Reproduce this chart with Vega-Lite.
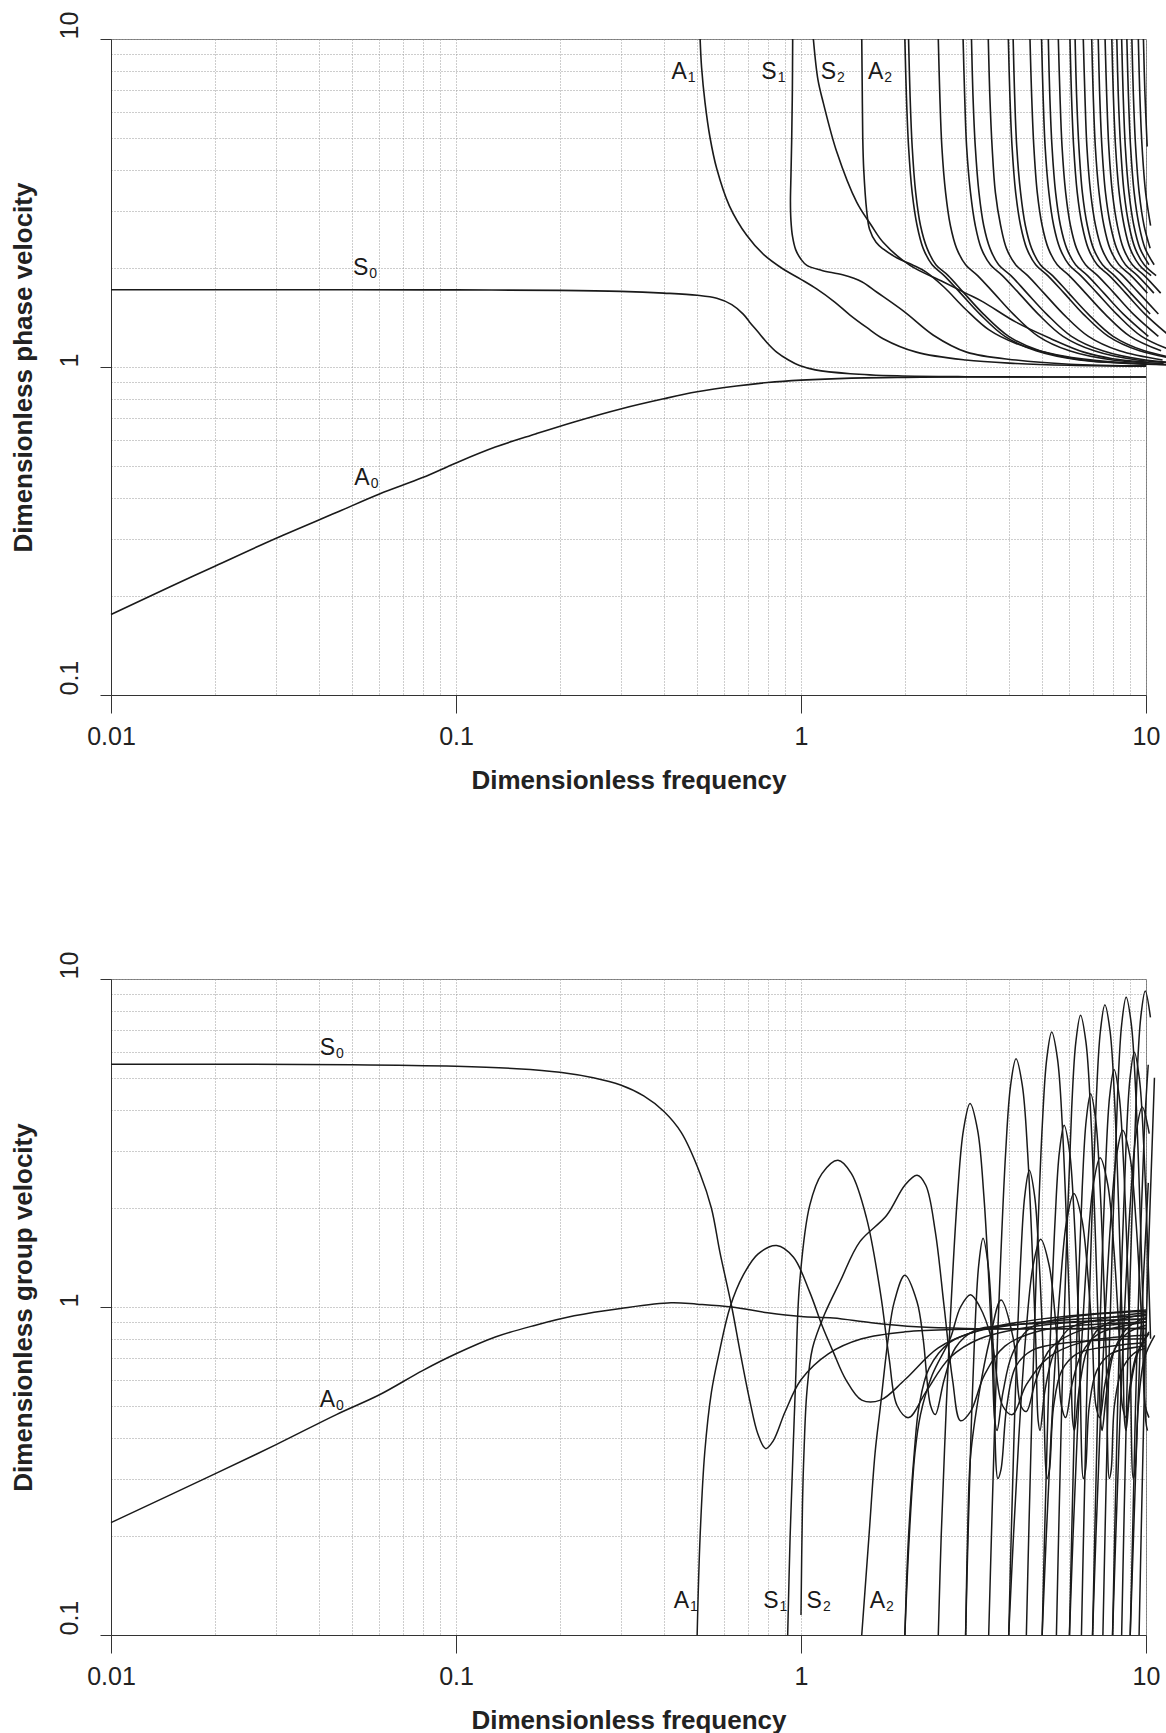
{
 "$schema": "https://vega.github.io/schema/vega-lite/v6.json",
 "background": "white",
 "padding": {"left": 9, "top": 10, "right": 10, "bottom": 5},
 "config": {
  "font": "Liberation Sans",
  "view": {"stroke": "#7a7a7a", "strokeWidth": 1},
  "line": {"color": "#1a1a1a", "strokeWidth": 1.6, "interpolate": "catmull-rom", "clip": true},
  "text": {"font": "Liberation Sans", "color": "#1a1a1a"}
 },
 "datasets": {
  "ph": [
   {"m":"S0","x":0.01,"y":1.72},{"m":"S0","x":0.05,"y":1.72},{"m":"S0","x":0.1,"y":1.718},{"m":"S0","x":0.2,"y":1.712},{"m":"S0","x":0.3,"y":1.70},{"m":"S0","x":0.4,"y":1.68},{"m":"S0","x":0.5,"y":1.655},{"m":"S0","x":0.57,"y":1.62},{"m":"S0","x":0.63,"y":1.55},{"m":"S0","x":0.68,"y":1.45},{"m":"S0","x":0.71,"y":1.37},{"m":"S0","x":0.75,"y":1.28},{"m":"S0","x":0.795,"y":1.19},{"m":"S0","x":0.85,"y":1.11},{"m":"S0","x":0.92,"y":1.05},{"m":"S0","x":0.99,"y":1.01},{"m":"S0","x":1.1,"y":0.98},{"m":"S0","x":1.39,"y":0.954},{"m":"S0","x":1.9,"y":0.94},{"m":"S0","x":3,"y":0.934},{"m":"S0","x":10,"y":0.932},
   {"m":"A0","x":0.01,"y":0.176},{"m":"A0","x":0.015,"y":0.215},{"m":"A0","x":0.02,"y":0.247},{"m":"A0","x":0.03,"y":0.30},{"m":"A0","x":0.045,"y":0.36},{"m":"A0","x":0.06,"y":0.41},{"m":"A0","x":0.08,"y":0.46},{"m":"A0","x":0.1,"y":0.51},{"m":"A0","x":0.13,"y":0.57},{"m":"A0","x":0.17,"y":0.625},{"m":"A0","x":0.22,"y":0.68},{"m":"A0","x":0.3,"y":0.745},{"m":"A0","x":0.4,"y":0.80},{"m":"A0","x":0.5,"y":0.84},{"m":"A0","x":0.65,"y":0.875},{"m":"A0","x":0.8,"y":0.897},{"m":"A0","x":1.0,"y":0.912},{"m":"A0","x":1.4,"y":0.925},{"m":"A0","x":2,"y":0.93},{"m":"A0","x":3,"y":0.932},{"m":"A0","x":10,"y":0.932},
   {"m":"A1","x":0.51,"y":10},{"m":"A1","x":0.515,"y":8.2},{"m":"A1","x":0.527,"y":6.4},{"m":"A1","x":0.545,"y":5.0},{"m":"A1","x":0.57,"y":4.02},{"m":"A1","x":0.62,"y":3.1},{"m":"A1","x":0.696,"y":2.52},{"m":"A1","x":0.78,"y":2.2},{"m":"A1","x":0.887,"y":1.99},{"m":"A1","x":1.0,"y":1.85},{"m":"A1","x":1.11,"y":1.73},{"m":"A1","x":1.25,"y":1.58},{"m":"A1","x":1.387,"y":1.44},{"m":"A1","x":1.55,"y":1.32},{"m":"A1","x":1.73,"y":1.22},{"m":"A1","x":2.16,"y":1.11},{"m":"A1","x":3.0,"y":1.05},{"m":"A1","x":4.2,"y":1.025},{"m":"A1","x":6,"y":1.012},{"m":"A1","x":10,"y":1.005},
   {"m":"S1","x":0.946,"y":10},{"m":"S1","x":0.944,"y":7},{"m":"S1","x":0.94,"y":5},{"m":"S1","x":0.935,"y":3.8},{"m":"S1","x":0.932,"y":3.2},{"m":"S1","x":0.935,"y":2.8},{"m":"S1","x":0.945,"y":2.5},{"m":"S1","x":0.965,"y":2.28},{"m":"S1","x":1.0,"y":2.13},{"m":"S1","x":1.04,"y":2.04},{"m":"S1","x":1.15,"y":1.97},{"m":"S1","x":1.32,"y":1.91},{"m":"S1","x":1.5,"y":1.82},{"m":"S1","x":1.66,"y":1.69},{"m":"S1","x":2.0,"y":1.47},{"m":"S1","x":2.42,"y":1.25},{"m":"S1","x":3.02,"y":1.11},{"m":"S1","x":4.2,"y":1.05},{"m":"S1","x":6,"y":1.02},{"m":"S1","x":10,"y":1.008},
   {"m":"S2","x":1.086,"y":10},{"m":"S2","x":1.12,"y":7.5},{"m":"S2","x":1.16,"y":6.4},{"m":"S2","x":1.27,"y":4.52},{"m":"S2","x":1.45,"y":3.18},{"m":"S2","x":1.6,"y":2.7},{"m":"S2","x":1.73,"y":2.4},{"m":"S2","x":2.07,"y":2.04},{"m":"S2","x":2.58,"y":1.82},{"m":"S2","x":3.0,"y":1.68},{"m":"S2","x":3.37,"y":1.58},{"m":"S2","x":4.2,"y":1.37},{"m":"S2","x":5.3,"y":1.22},{"m":"S2","x":6.6,"y":1.11},{"m":"S2","x":8,"y":1.06},{"m":"S2","x":10,"y":1.035},
   {"m":"A2","x":1.5,"y":10},{"m":"A2","x":1.505,"y":7},{"m":"A2","x":1.51,"y":5},{"m":"A2","x":1.52,"y":4.0},{"m":"A2","x":1.55,"y":3.0},{"m":"A2","x":1.58,"y":2.63},{"m":"A2","x":1.65,"y":2.4},{"m":"A2","x":1.73,"y":2.29},{"m":"A2","x":1.9,"y":2.15},{"m":"A2","x":2.1,"y":2.05},{"m":"A2","x":2.3,"y":1.95},{"m":"A2","x":2.6,"y":1.75},{"m":"A2","x":3.0,"y":1.5},{"m":"A2","x":3.5,"y":1.3},{"m":"A2","x":4.2,"y":1.18},{"m":"A2","x":5.5,"y":1.09},{"m":"A2","x":7,"y":1.05},{"m":"A2","x":10,"y":1.02},
   {"m":"p1","x":2,"y":10},{"m":"p1","x":2.02,"y":6.8},{"m":"p1","x":2.05,"y":4.7},{"m":"p1","x":2.1,"y":3.4},{"m":"p1","x":2.17,"y":2.7},{"m":"p1","x":2.26,"y":2.3},{"m":"p1","x":2.4,"y":2.05},{"m":"p1","x":2.6,"y":1.9},{"m":"p1","x":2.9,"y":1.68},{"m":"p1","x":3.3,"y":1.45},{"m":"p1","x":3.9,"y":1.24},{"m":"p1","x":4.8,"y":1.12},{"m":"p1","x":6.4,"y":1.05},{"m":"p1","x":9,"y":1.025},{"m":"p1","x":12,"y":1.015},
   {"m":"p2","x":2.05,"y":10},{"m":"p2","x":2.07,"y":6.8},{"m":"p2","x":2.1,"y":4.7},{"m":"p2","x":2.15,"y":3.4},{"m":"p2","x":2.22,"y":2.7},{"m":"p2","x":2.32,"y":2.3},{"m":"p2","x":2.46,"y":2.05},{"m":"p2","x":2.67,"y":1.9},{"m":"p2","x":2.97,"y":1.68},{"m":"p2","x":3.38,"y":1.45},{"m":"p2","x":4.0,"y":1.24},{"m":"p2","x":4.92,"y":1.12},{"m":"p2","x":6.56,"y":1.05},{"m":"p2","x":9.23,"y":1.025},{"m":"p2","x":12.3,"y":1.015},
   {"m":"p3","x":2.5,"y":10},{"m":"p3","x":2.525,"y":6.8},{"m":"p3","x":2.56,"y":4.7},{"m":"p3","x":2.625,"y":3.4},{"m":"p3","x":2.71,"y":2.7},{"m":"p3","x":2.825,"y":2.3},{"m":"p3","x":3.0,"y":2.05},{"m":"p3","x":3.25,"y":1.9},{"m":"p3","x":3.625,"y":1.68},{"m":"p3","x":4.125,"y":1.45},{"m":"p3","x":4.875,"y":1.24},{"m":"p3","x":6.0,"y":1.12},{"m":"p3","x":8.0,"y":1.05},{"m":"p3","x":11.25,"y":1.025},
   {"m":"p4","x":2.95,"y":10},{"m":"p4","x":2.98,"y":6.8},{"m":"p4","x":3.02,"y":4.7},{"m":"p4","x":3.1,"y":3.4},{"m":"p4","x":3.2,"y":2.7},{"m":"p4","x":3.33,"y":2.3},{"m":"p4","x":3.54,"y":2.05},{"m":"p4","x":3.835,"y":1.9},{"m":"p4","x":4.28,"y":1.68},{"m":"p4","x":4.87,"y":1.45},{"m":"p4","x":5.75,"y":1.24},{"m":"p4","x":7.08,"y":1.12},{"m":"p4","x":9.44,"y":1.05},{"m":"p4","x":13.3,"y":1.025},
   {"m":"p5","x":3.12,"y":10},{"m":"p5","x":3.15,"y":6.8},{"m":"p5","x":3.2,"y":4.7},{"m":"p5","x":3.28,"y":3.4},{"m":"p5","x":3.385,"y":2.7},{"m":"p5","x":3.53,"y":2.3},{"m":"p5","x":3.74,"y":2.05},{"m":"p5","x":4.06,"y":1.9},{"m":"p5","x":4.52,"y":1.68},{"m":"p5","x":5.15,"y":1.45},{"m":"p5","x":6.08,"y":1.24},{"m":"p5","x":7.49,"y":1.12},{"m":"p5","x":9.98,"y":1.05},{"m":"p5","x":14,"y":1.025},
   {"m":"p6","x":3.49,"y":10},{"m":"p6","x":3.525,"y":6.8},{"m":"p6","x":3.58,"y":4.7},{"m":"p6","x":3.66,"y":3.4},{"m":"p6","x":3.79,"y":2.7},{"m":"p6","x":3.94,"y":2.3},{"m":"p6","x":4.19,"y":2.05},{"m":"p6","x":4.54,"y":1.9},{"m":"p6","x":5.06,"y":1.68},{"m":"p6","x":5.76,"y":1.45},{"m":"p6","x":6.81,"y":1.24},{"m":"p6","x":8.38,"y":1.12},{"m":"p6","x":11.17,"y":1.05},
   {"m":"p7","x":3.99,"y":10},{"m":"p7","x":4.03,"y":6.8},{"m":"p7","x":4.09,"y":4.7},{"m":"p7","x":4.19,"y":3.4},{"m":"p7","x":4.33,"y":2.7},{"m":"p7","x":4.51,"y":2.3},{"m":"p7","x":4.79,"y":2.05},{"m":"p7","x":5.19,"y":1.9},{"m":"p7","x":5.79,"y":1.68},{"m":"p7","x":6.58,"y":1.45},{"m":"p7","x":7.78,"y":1.24},{"m":"p7","x":9.58,"y":1.12},{"m":"p7","x":12.77,"y":1.05},
   {"m":"p8","x":4.12,"y":10},{"m":"p8","x":4.16,"y":6.8},{"m":"p8","x":4.22,"y":4.7},{"m":"p8","x":4.33,"y":3.4},{"m":"p8","x":4.47,"y":2.7},{"m":"p8","x":4.66,"y":2.3},{"m":"p8","x":4.94,"y":2.05},{"m":"p8","x":5.36,"y":1.9},{"m":"p8","x":5.97,"y":1.68},{"m":"p8","x":6.8,"y":1.45},{"m":"p8","x":8.03,"y":1.24},{"m":"p8","x":9.89,"y":1.12},{"m":"p8","x":13.18,"y":1.05},
   {"m":"p9","x":4.61,"y":10},{"m":"p9","x":4.66,"y":6.8},{"m":"p9","x":4.73,"y":4.7},{"m":"p9","x":4.84,"y":3.4},{"m":"p9","x":5.0,"y":2.7},{"m":"p9","x":5.21,"y":2.3},{"m":"p9","x":5.53,"y":2.05},{"m":"p9","x":5.99,"y":1.9},{"m":"p9","x":6.68,"y":1.68},{"m":"p9","x":7.61,"y":1.45},{"m":"p9","x":8.99,"y":1.24},{"m":"p9","x":11.06,"y":1.12},
   {"m":"p10","x":4.98,"y":10},{"m":"p10","x":5.03,"y":6.8},{"m":"p10","x":5.1,"y":4.7},{"m":"p10","x":5.23,"y":3.4},{"m":"p10","x":5.4,"y":2.7},{"m":"p10","x":5.63,"y":2.3},{"m":"p10","x":5.98,"y":2.05},{"m":"p10","x":6.47,"y":1.9},{"m":"p10","x":7.22,"y":1.68},{"m":"p10","x":8.22,"y":1.45},{"m":"p10","x":9.71,"y":1.24},{"m":"p10","x":11.95,"y":1.12},
   {"m":"p11","x":5.21,"y":10},{"m":"p11","x":5.26,"y":6.8},{"m":"p11","x":5.34,"y":4.7},{"m":"p11","x":5.47,"y":3.4},{"m":"p11","x":5.65,"y":2.7},{"m":"p11","x":5.89,"y":2.3},{"m":"p11","x":6.25,"y":2.05},{"m":"p11","x":6.77,"y":1.9},{"m":"p11","x":7.55,"y":1.68},{"m":"p11","x":8.6,"y":1.45},{"m":"p11","x":10.16,"y":1.24},
   {"m":"p12","x":5.57,"y":10},{"m":"p12","x":5.63,"y":6.8},{"m":"p12","x":5.71,"y":4.7},{"m":"p12","x":5.85,"y":3.4},{"m":"p12","x":6.04,"y":2.7},{"m":"p12","x":6.29,"y":2.3},{"m":"p12","x":6.68,"y":2.05},{"m":"p12","x":7.24,"y":1.9},{"m":"p12","x":8.08,"y":1.68},{"m":"p12","x":9.19,"y":1.45},{"m":"p12","x":10.86,"y":1.24},
   {"m":"p13","x":6.02,"y":10},{"m":"p13","x":6.08,"y":6.8},{"m":"p13","x":6.17,"y":4.7},{"m":"p13","x":6.32,"y":3.4},{"m":"p13","x":6.53,"y":2.7},{"m":"p13","x":6.8,"y":2.3},{"m":"p13","x":7.22,"y":2.05},{"m":"p13","x":7.83,"y":1.9},{"m":"p13","x":8.73,"y":1.68},{"m":"p13","x":9.93,"y":1.45},{"m":"p13","x":11.74,"y":1.24},
   {"m":"p14","x":6.23,"y":10},{"m":"p14","x":6.29,"y":6.8},{"m":"p14","x":6.39,"y":4.7},{"m":"p14","x":6.54,"y":3.4},{"m":"p14","x":6.76,"y":2.7},{"m":"p14","x":7.04,"y":2.3},{"m":"p14","x":7.48,"y":2.05},{"m":"p14","x":8.1,"y":1.9},{"m":"p14","x":9.03,"y":1.68},{"m":"p14","x":10.28,"y":1.45},
   {"m":"p15","x":6.58,"y":10},{"m":"p15","x":6.65,"y":6.8},{"m":"p15","x":6.74,"y":4.7},{"m":"p15","x":6.91,"y":3.4},{"m":"p15","x":7.14,"y":2.7},{"m":"p15","x":7.44,"y":2.3},{"m":"p15","x":7.9,"y":2.05},{"m":"p15","x":8.55,"y":1.9},{"m":"p15","x":9.54,"y":1.68},{"m":"p15","x":10.86,"y":1.45},
   {"m":"p16","x":6.96,"y":10},{"m":"p16","x":7.03,"y":6.8},{"m":"p16","x":7.13,"y":4.7},{"m":"p16","x":7.31,"y":3.4},{"m":"p16","x":7.55,"y":2.7},{"m":"p16","x":7.86,"y":2.3},{"m":"p16","x":8.35,"y":2.05},{"m":"p16","x":9.05,"y":1.9},{"m":"p16","x":10.09,"y":1.68},
   {"m":"p17","x":7.27,"y":10},{"m":"p17","x":7.34,"y":6.8},{"m":"p17","x":7.45,"y":4.7},{"m":"p17","x":7.63,"y":3.4},{"m":"p17","x":7.89,"y":2.7},{"m":"p17","x":8.22,"y":2.3},{"m":"p17","x":8.72,"y":2.05},{"m":"p17","x":9.45,"y":1.9},{"m":"p17","x":10.54,"y":1.68},
   {"m":"p18","x":7.61,"y":10},{"m":"p18","x":7.69,"y":6.8},{"m":"p18","x":7.8,"y":4.7},{"m":"p18","x":7.99,"y":3.4},{"m":"p18","x":8.26,"y":2.7},{"m":"p18","x":8.6,"y":2.3},{"m":"p18","x":9.13,"y":2.05},{"m":"p18","x":9.89,"y":1.9},{"m":"p18","x":11.03,"y":1.68},
   {"m":"p19","x":7.96,"y":10},{"m":"p19","x":8.04,"y":6.8},{"m":"p19","x":8.16,"y":4.7},{"m":"p19","x":8.36,"y":3.4},{"m":"p19","x":8.64,"y":2.7},{"m":"p19","x":8.99,"y":2.3},{"m":"p19","x":9.55,"y":2.05},{"m":"p19","x":10.35,"y":1.9},
   {"m":"p20","x":8.23,"y":10},{"m":"p20","x":8.31,"y":6.8},{"m":"p20","x":8.44,"y":4.7},{"m":"p20","x":8.64,"y":3.4},{"m":"p20","x":8.93,"y":2.7},{"m":"p20","x":9.3,"y":2.3},{"m":"p20","x":9.88,"y":2.05},{"m":"p20","x":10.7,"y":1.9},
   {"m":"p21","x":8.5,"y":10},{"m":"p21","x":8.585,"y":6.8},{"m":"p21","x":8.71,"y":4.7},{"m":"p21","x":8.925,"y":3.4},{"m":"p21","x":9.22,"y":2.7},{"m":"p21","x":9.605,"y":2.3},{"m":"p21","x":10.2,"y":2.05},
   {"m":"p22","x":8.8,"y":10},{"m":"p22","x":8.89,"y":6.8},{"m":"p22","x":9.02,"y":4.7},{"m":"p22","x":9.24,"y":3.4},{"m":"p22","x":9.55,"y":2.7},{"m":"p22","x":9.94,"y":2.3},{"m":"p22","x":10.56,"y":2.05},
   {"m":"p23","x":9.1,"y":10},{"m":"p23","x":9.19,"y":6.8},{"m":"p23","x":9.33,"y":4.7},{"m":"p23","x":9.555,"y":3.4},{"m":"p23","x":9.87,"y":2.7},{"m":"p23","x":10.28,"y":2.3},
   {"m":"p24","x":9.5,"y":10},{"m":"p24","x":9.595,"y":6.8},{"m":"p24","x":9.74,"y":4.7},{"m":"p24","x":9.975,"y":3.4},{"m":"p24","x":10.31,"y":2.7},
   {"m":"p25","x":9.83,"y":10},{"m":"p25","x":9.93,"y":6.8},{"m":"p25","x":10.08,"y":4.7}
  ],
  "gr": [
   {"m":"S0","x":0.01,"y":5.5},{"m":"S0","x":0.05,"y":5.48},{"m":"S0","x":0.1,"y":5.42},{"m":"S0","x":0.15,"y":5.33},{"m":"S0","x":0.2,"y":5.2},{"m":"S0","x":0.25,"y":5.0},{"m":"S0","x":0.3,"y":4.75},{"m":"S0","x":0.35,"y":4.4},{"m":"S0","x":0.4,"y":3.95},{"m":"S0","x":0.45,"y":3.4},{"m":"S0","x":0.51,"y":2.55},{"m":"S0","x":0.55,"y":2.0},{"m":"S0","x":0.582,"y":1.47},{"m":"S0","x":0.63,"y":1.0},{"m":"S0","x":0.666,"y":0.73},{"m":"S0","x":0.71,"y":0.52},{"m":"S0","x":0.75,"y":0.41},{"m":"S0","x":0.79,"y":0.37},{"m":"S0","x":0.83,"y":0.39},{"m":"S0","x":0.9,"y":0.48},{"m":"S0","x":1.0,"y":0.6},{"m":"S0","x":1.2,"y":0.72},{"m":"S0","x":1.5,"y":0.8},{"m":"S0","x":2,"y":0.84},{"m":"S0","x":3,"y":0.855},{"m":"S0","x":10,"y":0.86},
   {"m":"A0","x":0.01,"y":0.22},{"m":"A0","x":0.02,"y":0.31},{"m":"A0","x":0.03,"y":0.38},{"m":"A0","x":0.045,"y":0.47},{"m":"A0","x":0.06,"y":0.54},{"m":"A0","x":0.08,"y":0.64},{"m":"A0","x":0.1,"y":0.72},{"m":"A0","x":0.13,"y":0.81},{"m":"A0","x":0.17,"y":0.88},{"m":"A0","x":0.22,"y":0.94},{"m":"A0","x":0.3,"y":0.99},{"m":"A0","x":0.42,"y":1.03},{"m":"A0","x":0.5,"y":1.02},{"m":"A0","x":0.63,"y":1.0},{"m":"A0","x":0.8,"y":0.96},{"m":"A0","x":1.0,"y":0.935},{"m":"A0","x":1.24,"y":0.925},{"m":"A0","x":1.6,"y":0.895},{"m":"A0","x":2.16,"y":0.87},{"m":"A0","x":3.02,"y":0.86},{"m":"A0","x":10,"y":0.86},
   {"m":"A1","x":0.5,"y":0.1},{"m":"A1","x":0.51,"y":0.2},{"m":"A1","x":0.526,"y":0.36},{"m":"A1","x":0.55,"y":0.55},{"m":"A1","x":0.58,"y":0.73},{"m":"A1","x":0.623,"y":1.0},{"m":"A1","x":0.68,"y":1.25},{"m":"A1","x":0.75,"y":1.45},{"m":"A1","x":0.85,"y":1.54},{"m":"A1","x":0.95,"y":1.42},{"m":"A1","x":1.06,"y":1.11},{"m":"A1","x":1.15,"y":0.88},{"m":"A1","x":1.24,"y":0.73},{"m":"A1","x":1.35,"y":0.6},{"m":"A1","x":1.5,"y":0.52},{"m":"A1","x":1.7,"y":0.52},{"m":"A1","x":2.0,"y":0.6},{"m":"A1","x":2.5,"y":0.75},{"m":"A1","x":3.2,"y":0.84},{"m":"A1","x":5,"y":0.9},{"m":"A1","x":10,"y":0.94},
   {"m":"S1","x":0.915,"y":0.1},{"m":"S1","x":0.93,"y":0.2},{"m":"S1","x":0.948,"y":0.36},{"m":"S1","x":0.965,"y":0.6},{"m":"S1","x":0.99,"y":1.17},{"m":"S1","x":1.06,"y":2.04},{"m":"S1","x":1.15,"y":2.55},{"m":"S1","x":1.28,"y":2.8},{"m":"S1","x":1.4,"y":2.55},{"m":"S1","x":1.55,"y":1.86},{"m":"S1","x":1.7,"y":1.1},{"m":"S1","x":1.8,"y":0.7},{"m":"S1","x":1.9,"y":0.5},{"m":"S1","x":2.05,"y":0.46},{"m":"S1","x":2.3,"y":0.55},{"m":"S1","x":2.7,"y":0.7},{"m":"S1","x":3.3,"y":0.8},{"m":"S1","x":5,"y":0.88},{"m":"S1","x":10,"y":0.92},
   {"m":"S2","x":1.0,"y":0.115},{"m":"S2","x":1.01,"y":0.25},{"m":"S2","x":1.02,"y":0.36},{"m":"S2","x":1.04,"y":0.55},{"m":"S2","x":1.08,"y":0.75},{"m":"S2","x":1.17,"y":0.95},{"m":"S2","x":1.3,"y":1.2},{"m":"S2","x":1.48,"y":1.58},{"m":"S2","x":1.77,"y":1.9},{"m":"S2","x":2.0,"y":2.35},{"m":"S2","x":2.17,"y":2.52},{"m":"S2","x":2.3,"y":2.35},{"m":"S2","x":2.45,"y":1.7},{"m":"S2","x":2.6,"y":1.0},{"m":"S2","x":2.75,"y":0.6},{"m":"S2","x":2.9,"y":0.45},{"m":"S2","x":3.1,"y":0.48},{"m":"S2","x":3.4,"y":0.62},{"m":"S2","x":3.9,"y":0.76},{"m":"S2","x":5,"y":0.85},{"m":"S2","x":10,"y":0.9},
   {"m":"A2","x":1.5,"y":0.1},{"m":"A2","x":1.574,"y":0.2},{"m":"A2","x":1.64,"y":0.36},{"m":"A2","x":1.7,"y":0.5},{"m":"A2","x":1.789,"y":0.8},{"m":"A2","x":1.865,"y":1.04},{"m":"A2","x":2.0,"y":1.25},{"m":"A2","x":2.168,"y":1.04},{"m":"A2","x":2.26,"y":0.8},{"m":"A2","x":2.375,"y":0.5},{"m":"A2","x":2.45,"y":0.47},{"m":"A2","x":2.6,"y":0.6},{"m":"A2","x":2.8,"y":0.75},{"m":"A2","x":3.2,"y":0.85},{"m":"A2","x":4,"y":0.88},{"m":"A2","x":6,"y":0.9},{"m":"A2","x":10,"y":0.92},
   {"m":"N0","x":2.0,"y":0.1},{"m":"N0","x":2.06,"y":0.2},{"m":"N0","x":2.14,"y":0.36},{"m":"N0","x":2.22,"y":0.47},{"m":"N0","x":2.4,"y":0.62},{"m":"N0","x":2.706,"y":0.8},{"m":"N0","x":2.9,"y":1.0},{"m":"N0","x":3.1,"y":1.09},{"m":"N0","x":3.3,"y":1.0},{"m":"N0","x":3.566,"y":0.8},{"m":"N0","x":3.841,"y":0.5},{"m":"N0","x":4.1,"y":0.47},{"m":"N0","x":4.5,"y":0.58},{"m":"N0","x":5.2,"y":0.7},{"m":"N0","x":6.5,"y":0.78},{"m":"N0","x":10,"y":0.82},
   {"m":"G2b","x":2.0,"y":0.1},{"m":"G2b","x":2.05,"y":0.2},{"m":"G2b","x":2.13,"y":0.36},{"m":"G2b","x":2.2,"y":0.5},{"m":"G2b","x":2.35,"y":0.65},{"m":"G2b","x":2.7,"y":0.78},{"m":"G2b","x":3.3,"y":0.85},{"m":"G2b","x":5,"y":0.92},{"m":"G2b","x":10,"y":0.98},
   {"m":"T1","x":2.5,"y":0.1},{"m":"T1","x":2.549,"y":0.2},{"m":"T1","x":2.615,"y":0.4},{"m":"T1","x":2.691,"y":0.8},{"m":"T1","x":2.84,"y":2.17},{"m":"T1","x":2.957,"y":3.46},{"m":"T1","x":3.09,"y":4.17},{"m":"T1","x":3.25,"y":3.46},{"m":"T1","x":3.39,"y":2.17},{"m":"T1","x":3.569,"y":0.8},{"m":"T1","x":3.646,"y":0.45},{"m":"T1","x":3.7,"y":0.42},{"m":"T1","x":3.85,"y":0.55},{"m":"T1","x":4.1,"y":0.72},{"m":"T1","x":4.6,"y":0.86},{"m":"T1","x":6,"y":0.93},{"m":"T1","x":10,"y":0.97},
   {"m":"M1","x":3.0,"y":0.1},{"m":"M1","x":3.049,"y":0.2},{"m":"M1","x":3.108,"y":0.4},{"m":"M1","x":3.184,"y":0.8},{"m":"M1","x":3.275,"y":1.345},{"m":"M1","x":3.37,"y":1.62},{"m":"M1","x":3.486,"y":1.345},{"m":"M1","x":3.597,"y":0.8},{"m":"M1","x":3.721,"y":0.3},{"m":"M1","x":3.8,"y":0.32},{"m":"M1","x":3.95,"y":0.5},{"m":"M1","x":4.2,"y":0.66},{"m":"M1","x":4.7,"y":0.74},{"m":"M1","x":6,"y":0.78},{"m":"M1","x":10,"y":0.8},
   {"m":"Nm","x":3.0,"y":0.1},{"m":"Nm","x":3.04,"y":0.2},{"m":"Nm","x":3.1,"y":0.35},{"m":"Nm","x":3.287,"y":0.55},{"m":"Nm","x":3.528,"y":0.8},{"m":"Nm","x":3.8,"y":1.05},{"m":"Nm","x":4.126,"y":0.8},{"m":"Nm","x":4.338,"y":0.5},{"m":"Nm","x":4.5,"y":0.48},{"m":"Nm","x":4.8,"y":0.6},{"m":"Nm","x":5.3,"y":0.75},{"m":"Nm","x":6.5,"y":0.85},{"m":"Nm","x":10,"y":0.9},
   {"m":"T2","x":3.5,"y":0.1},{"m":"T2","x":3.564,"y":0.2},{"m":"T2","x":3.633,"y":0.4},{"m":"T2","x":3.7125,"y":0.8},{"m":"T2","x":3.92,"y":2.97},{"m":"T2","x":4.051,"y":4.74},{"m":"T2","x":4.2,"y":5.71},{"m":"T2","x":4.38,"y":4.74},{"m":"T2","x":4.5375,"y":2.97},{"m":"T2","x":4.788,"y":0.8},{"m":"T2","x":4.869,"y":0.45},{"m":"T2","x":4.93,"y":0.42},{"m":"T2","x":5.1,"y":0.56},{"m":"T2","x":5.4,"y":0.72},{"m":"T2","x":6.0,"y":0.86},{"m":"T2","x":7.5,"y":0.92},{"m":"T2","x":10,"y":0.96},
   {"m":"M2","x":4.0,"y":0.1},{"m":"M2","x":4.067,"y":0.2},{"m":"M2","x":4.143,"y":0.4},{"m":"M2","x":4.235,"y":0.8},{"m":"M2","x":4.3275,"y":1.357},{"m":"M2","x":4.45,"y":2.17},{"m":"M2","x":4.59,"y":2.61},{"m":"M2","x":4.758,"y":2.17},{"m":"M2","x":4.905,"y":1.357},{"m":"M2","x":5.016,"y":0.8},{"m":"M2","x":5.166,"y":0.3},{"m":"M2","x":5.25,"y":0.32},{"m":"M2","x":5.4,"y":0.5},{"m":"M2","x":5.7,"y":0.64},{"m":"M2","x":6.3,"y":0.72},{"m":"M2","x":8,"y":0.76},{"m":"M2","x":10,"y":0.78},
   {"m":"N1","x":4.0,"y":0.1},{"m":"N1","x":4.129,"y":0.2},{"m":"N1","x":4.279,"y":0.4},{"m":"N1","x":4.4745,"y":0.8},{"m":"N1","x":4.706,"y":1.336},{"m":"N1","x":4.95,"y":1.61},{"m":"N1","x":5.242,"y":1.336},{"m":"N1","x":5.519,"y":0.8},{"m":"N1","x":5.686,"y":0.5},{"m":"N1","x":5.85,"y":0.46},{"m":"N1","x":6.1,"y":0.58},{"m":"N1","x":6.5,"y":0.72},{"m":"N1","x":7.3,"y":0.83},{"m":"N1","x":10,"y":0.9},
   {"m":"T3","x":4.5,"y":0.1},{"m":"T3","x":4.571,"y":0.2},{"m":"T3","x":4.649,"y":0.4},{"m":"T3","x":4.738,"y":0.8},{"m":"T3","x":5.005,"y":3.58},{"m":"T3","x":5.157,"y":5.72},{"m":"T3","x":5.33,"y":6.89},{"m":"T3","x":5.538,"y":5.72},{"m":"T3","x":5.72,"y":3.58},{"m":"T3","x":6.041,"y":0.8},{"m":"T3","x":6.13,"y":0.45},{"m":"T3","x":6.2,"y":0.42},{"m":"T3","x":6.4,"y":0.56},{"m":"T3","x":6.75,"y":0.74},{"m":"T3","x":7.4,"y":0.87},{"m":"T3","x":10,"y":0.95},
   {"m":"M3","x":5.0,"y":0.1},{"m":"M3","x":5.081,"y":0.2},{"m":"M3","x":5.172,"y":0.4},{"m":"M3","x":5.279,"y":0.8},{"m":"M3","x":5.454,"y":1.86},{"m":"M3","x":5.611,"y":2.97},{"m":"M3","x":5.79,"y":3.58},{"m":"M3","x":6.006,"y":2.97},{"m":"M3","x":6.195,"y":1.86},{"m":"M3","x":6.406,"y":0.8},{"m":"M3","x":6.583,"y":0.3},{"m":"M3","x":6.68,"y":0.32},{"m":"M3","x":6.85,"y":0.5},{"m":"M3","x":7.2,"y":0.64},{"m":"M3","x":7.9,"y":0.72},{"m":"M3","x":10,"y":0.76},
   {"m":"N2","x":5.0,"y":0.1},{"m":"N2","x":5.139,"y":0.2},{"m":"N2","x":5.302,"y":0.4},{"m":"N2","x":5.502,"y":0.8},{"m":"N2","x":5.64,"y":1.154},{"m":"N2","x":5.892,"y":1.84},{"m":"N2","x":6.18,"y":2.22},{"m":"N2","x":6.524,"y":1.84},{"m":"N2","x":6.825,"y":1.154},{"m":"N2","x":6.99,"y":0.8},{"m":"N2","x":7.159,"y":0.5},{"m":"N2","x":7.35,"y":0.46},{"m":"N2","x":7.6,"y":0.58},{"m":"N2","x":8.0,"y":0.72},{"m":"N2","x":8.8,"y":0.83},{"m":"N2","x":10,"y":0.88},
   {"m":"T4","x":5.5,"y":0.1},{"m":"T4","x":5.58,"y":0.2},{"m":"T4","x":5.668,"y":0.4},{"m":"T4","x":5.766,"y":0.8},{"m":"T4","x":6.09,"y":4.03},{"m":"T4","x":6.262,"y":6.43},{"m":"T4","x":6.46,"y":7.75},{"m":"T4","x":6.696,"y":6.43},{"m":"T4","x":6.9025,"y":4.03},{"m":"T4","x":7.288,"y":0.8},{"m":"T4","x":7.387,"y":0.45},{"m":"T4","x":7.46,"y":0.42},{"m":"T4","x":7.7,"y":0.56},{"m":"T4","x":8.1,"y":0.74},{"m":"T4","x":8.8,"y":0.86},{"m":"T4","x":10,"y":0.93},
   {"m":"M4","x":6.0,"y":0.1},{"m":"M4","x":6.089,"y":0.2},{"m":"M4","x":6.186,"y":0.4},{"m":"M4","x":6.299,"y":0.8},{"m":"M4","x":6.535,"y":2.32},{"m":"M4","x":6.71,"y":3.71},{"m":"M4","x":6.91,"y":4.47},{"m":"M4","x":7.15,"y":3.71},{"m":"M4","x":7.36,"y":2.32},{"m":"M4","x":7.643,"y":0.8},{"m":"M4","x":7.829,"y":0.3},{"m":"M4","x":7.93,"y":0.32},{"m":"M4","x":8.1,"y":0.5},{"m":"M4","x":8.5,"y":0.64},{"m":"M4","x":9.2,"y":0.72},{"m":"M4","x":10,"y":0.75},
   {"m":"N3","x":6.0,"y":0.1},{"m":"N3","x":6.145,"y":0.2},{"m":"N3","x":6.315,"y":0.4},{"m":"N3","x":6.52,"y":0.8},{"m":"N3","x":6.76,"y":1.48},{"m":"N3","x":7.04,"y":2.37},{"m":"N3","x":7.36,"y":2.85},{"m":"N3","x":7.744,"y":2.37},{"m":"N3","x":8.08,"y":1.48},{"m":"N3","x":8.368,"y":0.8},{"m":"N3","x":8.54,"y":0.5},{"m":"N3","x":8.75,"y":0.46},{"m":"N3","x":9.0,"y":0.58},{"m":"N3","x":9.4,"y":0.72},{"m":"N3","x":10.2,"y":0.83},
   {"m":"T5","x":6.5,"y":0.1},{"m":"T5","x":6.59,"y":0.2},{"m":"T5","x":6.688,"y":0.4},{"m":"T5","x":6.799,"y":0.8},{"m":"T5","x":7.179,"y":4.34},{"m":"T5","x":7.376,"y":6.93},{"m":"T5","x":7.6,"y":8.35},{"m":"T5","x":7.868,"y":6.93},{"m":"T5","x":8.1025,"y":4.34},{"m":"T5","x":8.557,"y":0.8},{"m":"T5","x":8.667,"y":0.45},{"m":"T5","x":8.75,"y":0.42},{"m":"T5","x":9.0,"y":0.56},{"m":"T5","x":9.45,"y":0.72},{"m":"T5","x":10.2,"y":0.84},
   {"m":"M5","x":7.0,"y":0.1},{"m":"M5","x":7.102,"y":0.2},{"m":"M5","x":7.211,"y":0.4},{"m":"M5","x":7.337,"y":0.8},{"m":"M5","x":7.645,"y":2.76},{"m":"M5","x":7.848,"y":4.4},{"m":"M5","x":8.08,"y":5.3},{"m":"M5","x":8.36,"y":4.4},{"m":"M5","x":8.605,"y":2.76},{"m":"M5","x":8.977,"y":0.8},{"m":"M5","x":9.185,"y":0.3},{"m":"M5","x":9.3,"y":0.32},{"m":"M5","x":9.5,"y":0.5},{"m":"M5","x":9.9,"y":0.7},{"m":"M5","x":10.6,"y":0.82},
   {"m":"N4","x":7.0,"y":0.1},{"m":"N4","x":7.159,"y":0.2},{"m":"N4","x":7.342,"y":0.4},{"m":"N4","x":7.556,"y":0.8},{"m":"N4","x":7.8925,"y":1.8},{"m":"N4","x":8.204,"y":2.87},{"m":"N4","x":8.56,"y":3.46},{"m":"N4","x":8.988,"y":2.87},{"m":"N4","x":9.3625,"y":1.8},{"m":"N4","x":9.767,"y":0.8},{"m":"N4","x":9.947,"y":0.5},{"m":"N4","x":10.2,"y":0.46},
   {"m":"T6","x":7.5,"y":0.1},{"m":"T6","x":7.605,"y":0.2},{"m":"T6","x":7.717,"y":0.4},{"m":"T6","x":7.841,"y":0.8},{"m":"T6","x":8.282,"y":4.58},{"m":"T6","x":8.505,"y":7.3},{"m":"T6","x":8.76,"y":8.8},{"m":"T6","x":9.064,"y":7.3},{"m":"T6","x":9.33,"y":4.58},{"m":"T6","x":9.857,"y":0.8},{"m":"T6","x":9.981,"y":0.45},{"m":"T6","x":10.1,"y":0.42},
   {"m":"M6","x":8.0,"y":0.1},{"m":"M6","x":8.111,"y":0.2},{"m":"M6","x":8.234,"y":0.4},{"m":"M6","x":8.374,"y":0.8},{"m":"M6","x":8.753,"y":3.11},{"m":"M6","x":8.985,"y":4.96},{"m":"M6","x":9.25,"y":5.98},{"m":"M6","x":9.57,"y":4.96},{"m":"M6","x":9.85,"y":3.11},{"m":"M6","x":10.31,"y":0.8},
   {"m":"N5","x":8.0,"y":0.1},{"m":"N5","x":8.173,"y":0.2},{"m":"N5","x":8.366,"y":0.4},{"m":"N5","x":8.591,"y":0.8},{"m":"N5","x":9.019,"y":2.12},{"m":"N5","x":9.36,"y":3.38},{"m":"N5","x":9.75,"y":4.07},{"m":"N5","x":10.218,"y":3.38},
   {"m":"T7","x":8.5,"y":0.1},{"m":"T7","x":8.615,"y":0.2},{"m":"T7","x":8.742,"y":0.4},{"m":"T7","x":8.884,"y":0.8},{"m":"T7","x":9.401,"y":4.78},{"m":"T7","x":9.657,"y":7.64},{"m":"T7","x":9.95,"y":9.2},{"m":"T7","x":10.3,"y":7.64},
   {"m":"M7","x":9.0,"y":0.1},{"m":"M7","x":9.143,"y":0.2},{"m":"M7","x":9.28,"y":0.4},{"m":"M7","x":9.435,"y":0.8},{"m":"M7","x":9.8875,"y":3.43},{"m":"M7","x":10.15,"y":5.48},
   {"m":"N6","x":9.0,"y":0.1},{"m":"N6","x":9.201,"y":0.2},{"m":"N6","x":9.406,"y":0.4},{"m":"N6","x":9.643,"y":0.8},{"m":"N6","x":10.155,"y":2.39},
   {"m":"T8","x":9.55,"y":0.1},{"m":"T8","x":9.68,"y":0.2},{"m":"T8","x":9.82,"y":0.4},{"m":"T8","x":9.98,"y":0.8},{"m":"T8","x":10.58,"y":5.0}
  ],
  "plab": [
   {"t":"A","s":"1","x":0.4664,"y":7.57},{"t":"S","s":"1","x":0.85,"y":7.57},{"t":"S","s":"2","x":1.263,"y":7.57},{"t":"A","s":"2","x":1.732,"y":7.57},{"t":"S","s":"0","x":0.0557,"y":1.904},{"t":"A","s":"0","x":0.0562,"y":0.4358}
  ],
  "glab": [
   {"t":"S","s":"0","x":0.0446,"y":5.86},{"t":"A","s":"0","x":0.0446,"y":0.494},{"t":"A","s":"1","x":0.4735,"y":0.1208},{"t":"S","s":"1","x":0.861,"y":0.1208},{"t":"S","s":"2","x":1.15,"y":0.1208},{"t":"A","s":"2","x":1.753,"y":0.1208}
  ]
 },
 "spacing": 284,
 "bounds": "flush",
 "vconcat": [
  {
   "width": 1035, "height": 656,
   "layer": [
    {"data": {"name": "ph"}, "mark": {"type": "line"},
     "encoding": {
      "x": {"field": "x", "type": "quantitative", "scale": {"type": "log", "domain": [0.01, 10], "nice": false},
       "axis": {"values": [0.01,0.02,0.03,0.04,0.05,0.06,0.07,0.08,0.09,0.1,0.2,0.3,0.4,0.5,0.6,0.7,0.8,0.9,1,2,3,4,5,6,7,8,9,10],
        "labelExpr": "datum.value==0.01?'0.01':datum.value==0.1?'0.1':datum.value==1?'1':datum.value==10?'10':''",
        "tickOpacity": {"condition": {"test": "datum.value==0.01||datum.value==0.1||datum.value==1||datum.value==10", "value": 1}, "value": 0},
        "tickSize": 18, "tickColor": "#333", "domainColor": "#333",
        "grid": true, "gridColor": "#9a9a9a", "gridDash": [1, 2],
        "labelFontSize": 25, "labelColor": "#222", "labelPadding": 11, "labelOverlap": false, "labelFlush": false, "labelBound": false,
        "title": "Dimensionless frequency", "titleFontSize": 26, "titleFontWeight": "bold", "titleColor": "#222", "titlePadding": 18}},
      "y": {"field": "y", "type": "quantitative", "scale": {"type": "log", "domain": [0.1, 10], "nice": false},
       "axis": {"values": [0.1,0.2,0.3,0.4,0.5,0.6,0.7,0.8,0.9,1,2,3,4,5,6,7,8,9,10],
        "labelExpr": "datum.value==0.1?'0.1':datum.value==1?'1':datum.value==10?'10':''",
        "tickOpacity": {"condition": {"test": "datum.value==0.1||datum.value==1||datum.value==10", "value": 1}, "value": 0},
        "tickSize": 11, "tickColor": "#333", "domainColor": "#333",
        "grid": true, "gridColor": "#9a9a9a", "gridDash": [1, 2],
        "labelFontSize": 25, "labelColor": "#222", "labelPadding": 23, "labelAngle": -90, "labelAlign": "left", "labelBaseline": "alphabetic", "labelOverlap": false, "labelFlush": false, "labelBound": false,
        "title": "Dimensionless phase velocity", "titleFontSize": 26, "titleFontWeight": "bold", "titleColor": "#222", "titleAngle": -90, "titleAlign": "center", "titleBaseline": "alphabetic", "titleX": -80, "titleY": 328}},
      "detail": {"field": "m"},
      "order": {"value": null}
     }},
    {"data": {"name": "plab"}, "mark": {"type": "text", "align": "right", "baseline": "alphabetic", "fontSize": 23},
     "encoding": {"x": {"field": "x", "type": "quantitative"}, "y": {"field": "y", "type": "quantitative"}, "text": {"field": "t"}}},
    {"data": {"name": "plab"}, "mark": {"type": "text", "align": "left", "baseline": "alphabetic", "fontSize": 14, "dx": 1, "dy": 3},
     "encoding": {"x": {"field": "x", "type": "quantitative"}, "y": {"field": "y", "type": "quantitative"}, "text": {"field": "s"}}}
   ]
  },
  {
   "width": 1035, "height": 656,
   "layer": [
    {"data": {"name": "gr"}, "mark": {"type": "line", "strokeWidth": 1.5},
     "encoding": {
      "x": {"field": "x", "type": "quantitative", "scale": {"type": "log", "domain": [0.01, 10], "nice": false},
       "axis": {"values": [0.01,0.02,0.03,0.04,0.05,0.06,0.07,0.08,0.09,0.1,0.2,0.3,0.4,0.5,0.6,0.7,0.8,0.9,1,2,3,4,5,6,7,8,9,10],
        "labelExpr": "datum.value==0.01?'0.01':datum.value==0.1?'0.1':datum.value==1?'1':datum.value==10?'10':''",
        "tickOpacity": {"condition": {"test": "datum.value==0.01||datum.value==0.1||datum.value==1||datum.value==10", "value": 1}, "value": 0},
        "tickSize": 18, "tickColor": "#333", "domainColor": "#333",
        "grid": true, "gridColor": "#9a9a9a", "gridDash": [1, 2],
        "labelFontSize": 25, "labelColor": "#222", "labelPadding": 11, "labelOverlap": false, "labelFlush": false, "labelBound": false,
        "title": "Dimensionless frequency", "titleFontSize": 26, "titleFontWeight": "bold", "titleColor": "#222", "titlePadding": 18}},
      "y": {"field": "y", "type": "quantitative", "scale": {"type": "log", "domain": [0.1, 10], "nice": false},
       "axis": {"values": [0.1,0.2,0.3,0.4,0.5,0.6,0.7,0.8,0.9,1,2,3,4,5,6,7,8,9,10],
        "labelExpr": "datum.value==0.1?'0.1':datum.value==1?'1':datum.value==10?'10':''",
        "tickOpacity": {"condition": {"test": "datum.value==0.1||datum.value==1||datum.value==10", "value": 1}, "value": 0},
        "tickSize": 11, "tickColor": "#333", "domainColor": "#333",
        "grid": true, "gridColor": "#9a9a9a", "gridDash": [1, 2],
        "labelFontSize": 25, "labelColor": "#222", "labelPadding": 23, "labelAngle": -90, "labelAlign": "left", "labelBaseline": "alphabetic", "labelOverlap": false, "labelFlush": false, "labelBound": false,
        "title": "Dimensionless group velocity", "titleFontSize": 26, "titleFontWeight": "bold", "titleColor": "#222", "titleAngle": -90, "titleAlign": "center", "titleBaseline": "alphabetic", "titleX": -80, "titleY": 328}},
      "detail": {"field": "m"},
      "order": {"value": null}
     }},
    {"data": {"name": "glab"}, "mark": {"type": "text", "align": "right", "baseline": "alphabetic", "fontSize": 23},
     "encoding": {"x": {"field": "x", "type": "quantitative"}, "y": {"field": "y", "type": "quantitative"}, "text": {"field": "t"}}},
    {"data": {"name": "glab"}, "mark": {"type": "text", "align": "left", "baseline": "alphabetic", "fontSize": 14, "dx": 1, "dy": 3},
     "encoding": {"x": {"field": "x", "type": "quantitative"}, "y": {"field": "y", "type": "quantitative"}, "text": {"field": "s"}}}
   ]
  }
 ]
}
